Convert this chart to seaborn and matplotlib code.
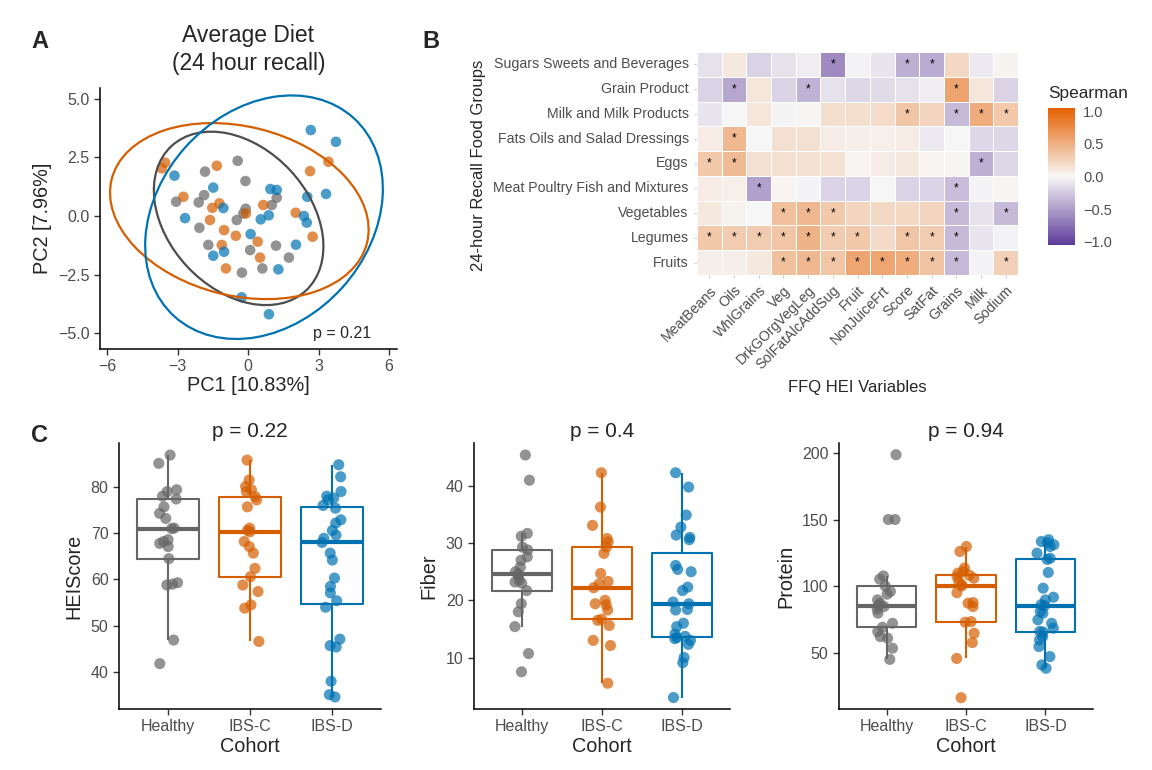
import numpy as np
import pandas as pd
import matplotlib
matplotlib.use('Agg')
import matplotlib.pyplot as plt
from matplotlib.patches import Ellipse
from matplotlib.colors import LinearSegmentedColormap
import seaborn as sns

sns.set_style('ticks')
plt.rcParams['font.family'] = ['Liberation Sans', 'DejaVu Sans']
plt.rcParams['axes.linewidth'] = 1.1

COHORTS = ['Healthy', 'IBS-C', 'IBS-D']
PALETTE = {'Healthy': '#666666', 'IBS-C': '#D55E00', 'IBS-D': '#0072B2'}
ELLIPSE_COLORS = {'Healthy': '#4d4d4d', 'IBS-C': '#D55E00', 'IBS-D': '#0072B2'}
TICK_GREY = '#4D4D4D'

# ── A. PCA of 24h recall ─────────────────────────────────────────────
pc1_healthy = [-0.44, -1.83, -0.11, -3.06, -2.10, -1.87, 1.22, 1.01, -0.10, -0.20,
               -0.48, -2.07, -1.69, 0.09, 1.19, 1.74, 0.61, -0.26]
pc2_healthy = [2.35, 1.89, 1.49, 0.61, 0.58, 0.89, 0.78, 0.47, 0.31, 0.11,
               -0.17, -0.50, -1.23, -1.45, -1.26, -1.77, -2.23, -2.41]
pc1_ibsc = [-3.53, -3.67, -1.33, 3.42, 2.64, -2.75, -1.22, -1.52, 0.65, -0.09,
            -1.62, 2.03, -1.02, -0.52, 2.75, 0.41, -1.12, 0.51, -0.94]
pc2_ibsc = [2.27, 2.03, 2.14, 2.31, 1.91, 0.82, 0.54, 0.35, 0.47, 0.11,
            -0.17, 0.14, -0.60, -0.84, -0.88, -1.09, -1.23, -1.77, -2.23]
pc1_ibsd = [2.67, 3.74, -3.13, -1.48, 0.95, 1.22, 2.52, 3.32, -2.68, -1.05, 0.54,
            0.88, 2.38, 2.50, 0.11, 2.04, -1.48, -1.02, 1.29, -0.27, 0.89]
pc2_ibsd = [3.66, 3.16, 1.72, 1.21, 1.15, 1.11, 0.82, 0.94, -0.09, 0.34, -0.14,
            0.03, 0.00, -0.28, -0.77, -1.22, -1.69, -1.52, -2.27, -3.46, -4.18]

# 95% ellipses: centre, semi-axes, rotation (deg)
ell_cx = {'Healthy': -0.40, 'IBS-C': -0.37, 'IBS-D': 0.68}
ell_cy = {'Healthy': -0.10, 'IBS-C': 0.21, 'IBS-D': -0.05}
ell_a = {'Healthy': 4.20, 'IBS-C': 5.60, 'IBS-D': 5.69}
ell_b = {'Healthy': 3.00, 'IBS-C': 3.60, 'IBS-D': 4.48}
ell_angle = {'Healthy': -47, 'IBS-C': -14, 'IBS-D': 48}

# ── B. Spearman heatmap ──────────────────────────────────────────────
FOOD_GROUPS = ['Sugars Sweets and Beverages', 'Grain Product', 'Milk and Milk Products',
               'Fats Oils and Salad Dressings', 'Eggs', 'Meat Poultry Fish and Mixtures',
               'Vegetables', 'Legumes', 'Fruits']
HEI_VARS = ['MeatBeans', 'Oils', 'WhlGrains', 'Veg', 'DrkGOrgVegLeg', 'SolFatAlcAddSug',
            'Fruit', 'NonJuiceFrt', 'Score', 'SatFat', 'Grains', 'Milk', 'Sodium']
RHO = [
    [-0.12, 0.10, -0.20, -0.12, -0.05, -0.60, -0.03, -0.10, -0.40, -0.42, 0.22, -0.08, 0.03],
    [-0.20, -0.45, 0.12, -0.20, -0.38, -0.12, -0.18, -0.15, -0.12, -0.05, 0.58, 0.12, -0.20],
    [-0.10, 0.00, 0.12, -0.02, 0.02, 0.17, 0.17, 0.19, 0.34, 0.24, -0.34, 0.52, 0.32],
    [0.08, 0.44, 0.00, 0.16, 0.16, 0.08, 0.06, 0.05, 0.08, -0.08, 0.00, -0.18, -0.18],
    [0.32, 0.42, 0.16, 0.16, 0.16, 0.14, 0.02, 0.08, 0.10, 0.02, 0.01, -0.40, -0.18],
    [0.08, 0.05, -0.48, 0.02, -0.02, -0.20, -0.20, 0.00, -0.20, -0.20, -0.32, -0.02, 0.02],
    [0.10, 0.04, 0.00, 0.38, 0.44, 0.32, 0.24, 0.22, 0.22, 0.24, -0.34, -0.12, -0.34],
    [0.32, 0.30, 0.30, 0.35, 0.47, 0.30, 0.32, 0.20, 0.34, 0.30, -0.34, -0.10, -0.03],
    [0.06, 0.06, 0.10, 0.38, 0.44, 0.34, 0.57, 0.57, 0.52, 0.36, -0.34, -0.02, 0.27],
]
SIG = [
    [0, 0, 0, 0, 0, 1, 0, 0, 1, 1, 0, 0, 0],
    [0, 1, 0, 0, 1, 0, 0, 0, 0, 0, 1, 0, 0],
    [0, 0, 0, 0, 0, 0, 0, 0, 1, 0, 1, 1, 1],
    [0, 1, 0, 0, 0, 0, 0, 0, 0, 0, 0, 0, 0],
    [1, 1, 0, 0, 0, 0, 0, 0, 0, 0, 0, 1, 0],
    [0, 0, 1, 0, 0, 0, 0, 0, 0, 0, 1, 0, 0],
    [0, 0, 0, 1, 1, 1, 0, 0, 0, 0, 1, 0, 1],
    [1, 1, 1, 1, 1, 1, 1, 0, 1, 1, 1, 0, 0],
    [0, 0, 0, 1, 1, 1, 1, 1, 1, 1, 1, 0, 1],
]
CBAR_TICKS = [-1.0, -0.5, 0.0, 0.5, 1.0]
CBAR_LABELS = ['\u22121.0', '\u22120.5', '0.0', '0.5', '1.0']

# ── C. FFQ nutrients by cohort ───────────────────────────────────────
hei_healthy = [41.8, 46.9, 58.8, 59.0, 59.3, 64.5, 67.1, 67.8, 68.2, 68.6, 71.0,
               71.1, 73.2, 74.3, 75.7, 77.4, 78.0, 79.0, 79.4, 85.1, 86.9]
hei_ibsc = [46.6, 53.8, 54.5, 57.4, 58.8, 60.6, 62.4, 65.7, 67.1, 68.2, 70.3,
            70.6, 71.1, 75.7, 77.2, 77.9, 79.0, 79.4, 80.1, 81.5, 85.8]
hei_ibsd = [34.6, 35.1, 38.0, 45.4, 45.7, 47.1, 54.0, 55.4, 57.1, 58.5, 60.3, 64.2,
            65.7, 68.0, 68.9, 69.6, 70.6, 72.2, 72.9, 75.4, 76.0, 77.2, 77.6, 78.0,
            79.0, 82.2, 84.8]

fiber_healthy = [7.5, 10.7, 15.4, 18.0, 19.4, 21.7, 23.0, 23.2, 23.5, 24.3, 24.6,
                 25.0, 25.8, 27.0, 27.6, 28.8, 29.3, 31.2, 31.7, 41.0, 45.4]
fiber_ibsc = [5.5, 12.1, 13.0, 15.6, 16.5, 16.7, 18.3, 19.2, 19.4, 20.0, 22.2,
              22.9, 23.3, 24.7, 28.2, 29.3, 30.2, 30.8, 33.1, 36.3, 42.3]
fiber_ibsd = [3.0, 9.1, 10.0, 12.3, 13.0, 13.3, 13.5, 13.7, 14.1, 15.4, 16.0, 18.3,
              18.4, 19.4, 19.7, 21.7, 22.3, 25.0, 25.4, 26.1, 30.6, 31.0, 31.4, 32.8,
              34.9, 39.8, 42.3]

protein_healthy = [44.9, 53.3, 60.8, 62.0, 65.8, 69.0, 72.0, 79.6, 82.6, 84.6, 85.3,
                   87.1, 89.6, 93.9, 95.9, 100.0, 105.2, 107.6, 150.0, 150.0, 198.7]
protein_ibsc = [16.1, 45.6, 57.5, 64.5, 72.8, 73.3, 84.6, 87.1, 87.6, 95.0, 100.1,
                101.0, 103.4, 105.9, 107.0, 108.2, 109.7, 111.0, 113.5, 126.0, 129.7]
protein_ibsd = [38.2, 40.7, 47.0, 54.5, 59.5, 62.0, 65.5, 65.9, 68.3, 72.0, 74.6, 79.6,
                80.8, 85.3, 86.0, 89.6, 91.6, 98.4, 110.2, 120.0, 120.9, 124.7, 129.7,
                131.0, 132.5, 133.5, 134.8]

P_VALUES = ['p = 0.22', 'p = 0.4', 'p = 0.94']


def style_axis(ax):
    sns.despine(ax=ax)
    ax.tick_params(length=4, width=1, color='#333333', labelcolor=TICK_GREY, labelsize=11.5)
    for s in ('left', 'bottom'):
        ax.spines[s].set_color('black')


fig = plt.figure(figsize=(11.52, 7.7), dpi=100)
W, H = 1152, 770


def px_axes(x0, y0, x1, y1):
    return fig.add_axes([x0 / W, 1 - y1 / H, (x1 - x0) / W, (y1 - y0) / H])


# ── Panel A ──────────────────────────────────────────────────────────
axA = px_axes(100, 88, 397, 349)
pcs = pd.DataFrame({
    'PC1': pc1_healthy + pc1_ibsc + pc1_ibsd,
    'PC2': pc2_healthy + pc2_ibsc + pc2_ibsd,
    'Cohort': ['Healthy'] * len(pc1_healthy) + ['IBS-C'] * len(pc1_ibsc) + ['IBS-D'] * len(pc1_ibsd),
})
sns.scatterplot(data=pcs, x='PC1', y='PC2', hue='Cohort', palette=PALETTE, s=58,
                alpha=0.7, edgecolor='none', legend=False, ax=axA)
for c in COHORTS:
    axA.add_patch(Ellipse((ell_cx[c], ell_cy[c]), 2 * ell_a[c], 2 * ell_b[c], angle=ell_angle[c],
                          fill=False, edgecolor=ELLIPSE_COLORS[c], lw=1.6))
axA.set_xlim(-6.3, 6.34)
axA.set_ylim(-5.66, 5.45)
axA.set_xticks([-6, -3, 0, 3, 6])
axA.set_xticklabels(['\u22126', '\u22123', '0', '3', '6'])
axA.set_yticks([-5, -2.5, 0, 2.5, 5])
axA.set_yticklabels(['\u22125.0', '\u22122.5', '0.0', '2.5', '5.0'])
axA.set_xlabel('PC1 [10.83%]', fontsize=14.3, labelpad=1)
axA.set_ylabel('PC2 [7.96%]', fontsize=14.3, labelpad=4)
axA.set_title('Average Diet\n(24 hour recall)', fontsize=16.5, pad=13, linespacing=1.25)
axA.text(5.25, -4.98, 'p = 0.21', ha='right', va='center', fontsize=11.5)
style_axis(axA)

# ── Panel B ──────────────────────────────────────────────────────────
axB = px_axes(697, 52, 1018, 275)
cax = px_axes(1048, 108, 1075, 245)
cmap = LinearSegmentedColormap.from_list('spear', ['#5e3c99', '#f7f7f7', '#e66101'])
rho = pd.DataFrame(RHO, index=FOOD_GROUPS, columns=HEI_VARS)
stars = np.where(np.array(SIG) == 1, '*', '')
sns.heatmap(rho, cmap=cmap, vmin=-1.05, vmax=1.05, annot=stars, fmt='',
            annot_kws={'fontsize': 8.5, 'color': 'black'}, linewidths=0.6, linecolor='white',
            cbar_ax=cax, cbar_kws={'ticks': CBAR_TICKS}, ax=axB)
axB.set_xticklabels(HEI_VARS, rotation=45, ha='right', rotation_mode='anchor')
axB.set_yticklabels(FOOD_GROUPS, rotation=0)
axB.tick_params(length=2.5, width=0.8, color='#cccccc', labelcolor=TICK_GREY, labelsize=10.2)
axB.set_xlabel('FFQ HEI Variables', fontsize=12, labelpad=6)
axB.set_ylabel('')
fig.text(478 / W, 1 - 165 / H, '24-hour Recall Food Groups', rotation=90,
         ha='center', va='center', fontsize=12)
cax.set_yticklabels(CBAR_LABELS)
cax.tick_params(direction='in', length=5, width=0.8, color='white', labelcolor=TICK_GREY,
                labelsize=10.5, left=True, right=True, pad=6)
for sp in cax.spines.values():
    sp.set_visible(False)
axB.collections[0].colorbar.outline.set_visible(False)
cax.set_title('Spearman', loc='left', fontsize=12.4, pad=7)

# ── Panel C ──────────────────────────────────────────────────────────
panels = [
    ((119, 443, 381, 709), 'HEIScore', [hei_healthy, hei_ibsc, hei_ibsd], [40, 50, 60, 70, 80], (32.0, 89.5)),
    ((474, 443, 730, 709), 'Fiber', [fiber_healthy, fiber_ibsc, fiber_ibsd], [10, 20, 30, 40], (1.0, 47.5)),
    ((839, 443, 1093, 709), 'Protein', [protein_healthy, protein_ibsc, protein_ibsd], [50, 100, 150, 200], (7.6, 207.5)),
]
np.random.seed(7)
for (box, label, groups, yticks, ylim), ptxt in zip(panels, P_VALUES):
    ax = px_axes(*box)
    df = pd.DataFrame({
        'Cohort': np.repeat(COHORTS, [len(g) for g in groups]),
        label: np.concatenate(groups),
    })
    sns.boxplot(data=df, x='Cohort', y=label, hue='Cohort', order=COHORTS, palette=PALETTE,
                fill=False, width=0.75, showfliers=False, linewidth=1.5,
                medianprops={'linewidth': 3}, capprops={'visible': False}, legend=False, ax=ax)
    sns.stripplot(data=df, x='Cohort', y=label, hue='Cohort', order=COHORTS, palette=PALETTE,
                  jitter=0.12, size=8, alpha=0.7, linewidth=0, legend=False, ax=ax)
    ax.set_xlim(-0.6, 2.6)
    ax.set_ylim(*ylim)
    ax.set_yticks(yticks)
    ax.set_xlabel('Cohort', fontsize=14.3, labelpad=2)
    ax.set_ylabel(label, fontsize=14.3, labelpad=5)
    ax.set_title(ptxt, fontsize=15, pad=4)
    style_axis(ax)

for letter, (x, y) in zip('ABC', [(40, 42), (431, 42), (40, 435)]):
    fig.text(x / W, 1 - y / H, letter, fontsize=17, fontweight='bold', ha='center', va='center')

fig.savefig('out.png', dpi=100)
